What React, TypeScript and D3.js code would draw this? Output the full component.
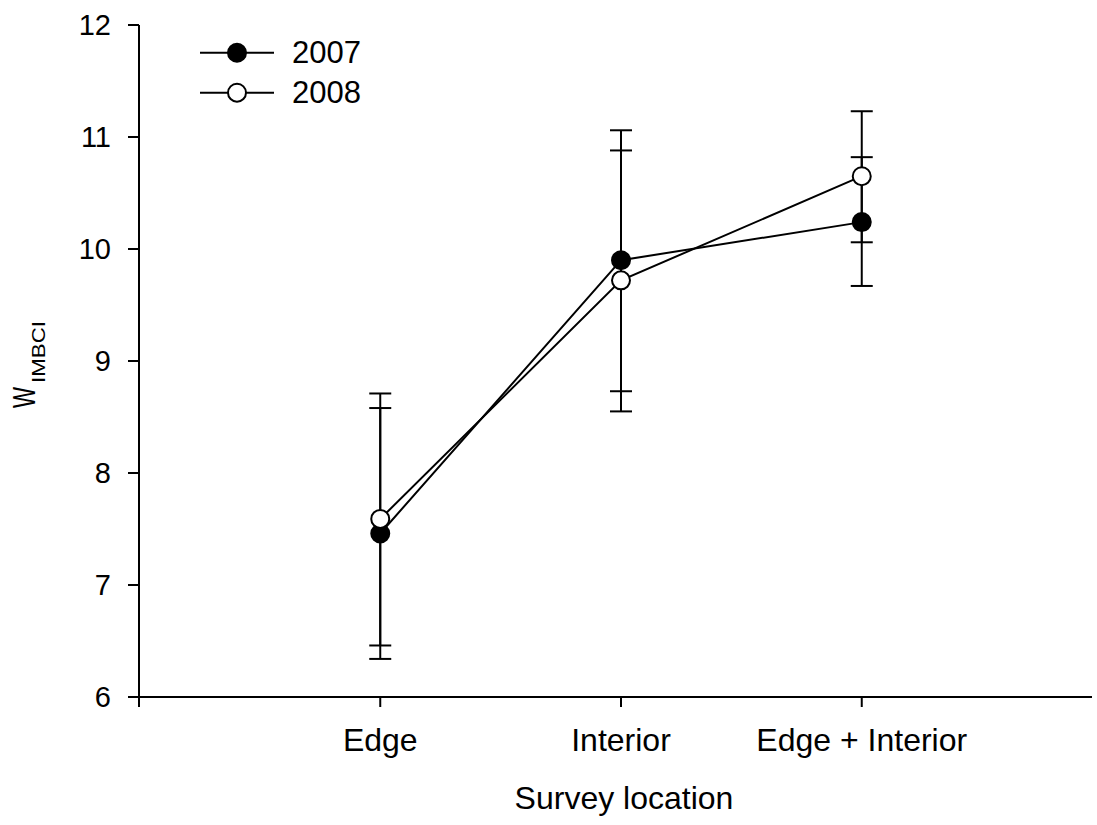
import React from "react";
import * as d3 from "d3";

const categories = ["Edge", "Interior", "Edge + Interior"];
const years = ["2007", "2008"];
const mean2007 = [7.46, 9.9, 10.24];
const lower2007 = [6.34, 8.73, 9.67];
const upper2007 = [8.58, 11.06, 10.82];
const mean2008 = [7.59, 9.72, 10.65];
const lower2008 = [6.46, 8.55, 10.06];
const upper2008 = [8.71, 10.88, 11.23];
const yTicks = [6, 7, 8, 9, 10, 11, 12];

const W = 1097;
const H = 825;
const FONT = "'Liberation Sans', Arial, Helvetica, sans-serif";

export default function App() {
  const x = d3.scaleLinear().domain([0, 4]).range([139.5, 1102.5]);
  const y = d3.scaleLinear().domain([6, 12]).range([697, 25]);
  const axisX0 = 139;
  const axisX1 = 1092;

  const series = [
    { name: years[0], mean: mean2007, lo: lower2007, hi: upper2007, fill: "#000" },
    { name: years[1], mean: mean2008, lo: lower2008, hi: upper2008, fill: "#fff" },
  ];

  const line = d3
    .line<number>()
    .x((_, i) => x(i + 1))
    .y((d) => y(d));

  const capHalf = 11;
  const r = 9;

  return (
    <svg
      width={W}
      height={H}
      style={{ position: "absolute", left: 0, top: 0, display: "block", background: "#fff" }}
      fontFamily={FONT}
    >
      <rect x={0} y={0} width={W} height={H} fill="#fff" />
      {/* Y axis */}
      <line x1={axisX0} x2={axisX0} y1={y(12)} y2={707} stroke="#000" strokeWidth={2} />
      {yTicks.map((t) => (
        <g key={t}>
          <line x1={128} x2={axisX0} y1={y(t)} y2={y(t)} stroke="#000" strokeWidth={2} />
          <text x={111} y={y(t)} textAnchor="end" dominantBaseline="central" fontSize={29}>
            {t}
          </text>
        </g>
      ))}
      {/* X axis */}
      <line x1={axisX0} x2={axisX1} y1={y(6)} y2={y(6)} stroke="#000" strokeWidth={2} />
      {categories.map((c, i) => (
        <g key={c}>
          <line x1={x(i + 1)} x2={x(i + 1)} y1={y(6)} y2={707} stroke="#000" strokeWidth={2} />
          <text x={x(i + 1)} y={751} textAnchor="middle" fontSize={32}>
            {c}
          </text>
        </g>
      ))}
      <text x={624} y={809} textAnchor="middle" fontSize={32}>
        Survey location
      </text>
      <text
        transform="translate(35, 408) rotate(-90)"
        fontSize={31}
        textLength={21}
        lengthAdjust="spacingAndGlyphs"
      >
        W
      </text>
      <text
        transform="translate(45, 383) rotate(-90)"
        fontSize={18}
        textLength={62}
        lengthAdjust="spacingAndGlyphs"
      >
        IMBCI
      </text>

      {/* Error bars */}
      {series.map((s) =>
        s.mean.map((m, i) => (
          <g key={s.name + i}>
            <line x1={x(i + 1)} x2={x(i + 1)} y1={y(s.lo[i])} y2={y(s.hi[i])} stroke="#000" strokeWidth={2} />
            <line x1={x(i + 1) - capHalf} x2={x(i + 1) + capHalf} y1={y(s.lo[i])} y2={y(s.lo[i])} stroke="#000" strokeWidth={2} />
            <line x1={x(i + 1) - capHalf} x2={x(i + 1) + capHalf} y1={y(s.hi[i])} y2={y(s.hi[i])} stroke="#000" strokeWidth={2} />
          </g>
        ))
      )}
      {/* Lines */}
      {series.map((s) => (
        <path key={"l" + s.name} d={line(s.mean) || ""} fill="none" stroke="#000" strokeWidth={2} />
      ))}
      {/* Markers */}
      {series.map((s) =>
        s.mean.map((m, i) => (
          <circle key={"c" + s.name + i} cx={x(i + 1)} cy={y(m)} r={r} fill={s.fill} stroke="#000" strokeWidth={2} />
        ))
      )}

      {/* Legend */}
      {series.map((s, i) => {
        const ly = 52.7 + i * 40;
        return (
          <g key={"lg" + s.name}>
            <line x1={200} x2={274} y1={ly} y2={ly} stroke="#000" strokeWidth={2} />
            <circle cx={237} cy={ly} r={r} fill={s.fill} stroke="#000" strokeWidth={2} />
            <text x={292} y={ly} dominantBaseline="central" fontSize={31}>
              {s.name}
            </text>
          </g>
        );
      })}
    </svg>
  );
}
